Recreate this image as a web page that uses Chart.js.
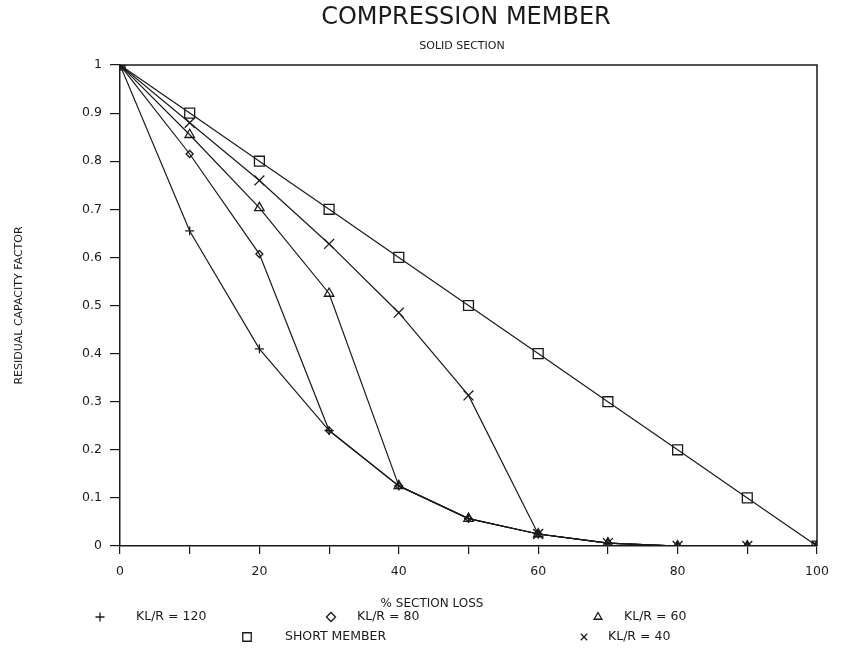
<!DOCTYPE html>
<html>
<head>
<meta charset="utf-8">
<script src="https://cdn.jsdelivr.net/npm/chart.js@4/dist/chart.umd.min.js"></script>
<style>
  html, body { margin: 0; padding: 0; background: #fff; }
  #wrap { width: 843px; height: 661px; position: relative; }
</style>
</head>
<body>
<div id="wrap"><canvas id="chart"></canvas></div>
<script>
// % section loss along the x axis
const sectionLoss = [0, 10, 20, 30, 40, 50, 60, 70, 80, 90, 100];

// residual capacity factor
const klr120 = [1, 0.655, 0.41, 0.24, 0.125, 0.057, 0.025, 0.006, 0, 0, 0];
const klr80 = [1, 0.815, 0.607, 0.24, 0.125, 0.057, 0.025, 0.006, 0, 0, 0];
const klr60 = [1, 0.855, 0.703, 0.525, 0.125, 0.057, 0.025, 0.006, 0, 0, 0];
const shortMember = [1, 0.9, 0.8, 0.7, 0.6, 0.5, 0.4, 0.3, 0.2, 0.1, 0];
const klr40 = [1, 0.88, 0.76, 0.628, 0.485, 0.313, 0.025, 0.006, 0, 0, 0];

const seriesLabels = ["KL/R = 120", "KL/R = 80", "KL/R = 60", "SHORT MEMBER", "KL/R = 40"];

const INK = "#1a1a1a";
const FONT = "'DejaVu Sans', 'Liberation Sans', sans-serif";

function toPoints(values) {
  return values.map((v, i) => ({ x: sectionLoss[i], y: v }));
}

function makeDataset(label, values, style, radius) {
  return {
    label: label,
    data: toPoints(values),
    borderColor: INK,
    borderWidth: 1.2,
    tension: 0,
    pointStyle: style,
    pointRadius: radius,
    pointBorderColor: INK,
    pointBorderWidth: 1.3,
    pointBackgroundColor: "rgba(0,0,0,0)",
  };
}

const datasets = [
  makeDataset(seriesLabels[0], klr120, "cross", 4.5),
  makeDataset(seriesLabels[1], klr80, "rectRot", 3.5),
  makeDataset(seriesLabels[2], klr60, "triangle", 5.5),
  makeDataset(seriesLabels[3], shortMember, "rect", 7),
  makeDataset(seriesLabels[4], klr40, "crossRot", 7),
];

// legend placement: [marker x, text x, row y]
const legendSpots = [
  [100, 136, 617],
  [331, 357, 617],
  [598, 624, 617],
  [247, 285, 637],
  [584, 608, 637],
];

const decorPlugin = {
  id: "decor",
  afterDraw(chart) {
    const ctx = chart.ctx;
    const area = chart.chartArea;
    ctx.save();
    // frame on top and right
    ctx.strokeStyle = INK;
    ctx.lineWidth = 1.5;
    ctx.beginPath();
    ctx.moveTo(area.left, area.top);
    ctx.lineTo(area.right, area.top);
    ctx.lineTo(area.right, area.bottom);
    ctx.stroke();

    ctx.fillStyle = INK;
    ctx.textAlign = "center";
    ctx.textBaseline = "middle";
    ctx.font = "24px " + FONT;
    ctx.fillText("COMPRESSION MEMBER", 466, 18);
    ctx.font = "11px " + FONT;
    ctx.fillText("SOLID SECTION", 462, 46);
    ctx.font = "12px " + FONT;
    ctx.fillText("% SECTION LOSS", 432, 604);

    // legend
    ctx.textAlign = "left";
    ctx.font = "12.5px " + FONT;
    chart.data.datasets.forEach((ds, i) => {
      const [mx, tx, ty] = legendSpots[i];
      ctx.strokeStyle = INK;
      ctx.fillStyle = "rgba(0,0,0,0)";
      ctx.lineWidth = 1.3;
      Chart.helpers.drawPoint(ctx, {
        pointStyle: ds.pointStyle,
        radius: ds.pointStyle === "rect" ? 6 : 4.5,
        rotation: 0,
        borderWidth: 1.3,
      }, mx, ty);
      ctx.fillStyle = INK;
      ctx.fillText(ds.label, tx, ty);
    });
    ctx.restore();
  },
};

new Chart(document.getElementById("chart"), {
  type: "line",
  data: { datasets: datasets },
  options: {
    responsive: true,
    maintainAspectRatio: false,
    animation: false,
    layout: { padding: { top: 65, right: 26, bottom: 0, left: 0 } },
    plugins: {
      legend: { display: false },
      title: { display: false },
      tooltip: { enabled: false },
    },
    scales: {
      x: {
        type: "linear",
        min: 0,
        max: 100,
        afterFit(scale) { scale.height = 115; },
        border: { color: INK, width: 1.5 },
        grid: { drawOnChartArea: false, tickLength: 8, color: INK, lineWidth: 1.2 },
        ticks: {
          stepSize: 10,
          autoSkip: false,
          maxRotation: 0,
          padding: 10,
          color: INK,
          font: { family: FONT, size: 12.5 },
          callback: (v) => (v % 20 === 0 ? String(v) : ""),
        },
      },
      y: {
        type: "linear",
        min: 0,
        max: 1,
        afterFit(scale) { scale.width = 120; },
        border: { color: INK, width: 1.5 },
        grid: { drawOnChartArea: false, tickLength: 10, color: INK, lineWidth: 1.2 },
        ticks: {
          stepSize: 0.1,
          padding: 8,
          color: INK,
          font: { family: FONT, size: 12.5 },
          callback: (v) => String(Math.round(v * 10) / 10),
        },
        title: {
          display: true,
          text: "RESIDUAL CAPACITY FACTOR",
          color: INK,
          font: { family: FONT, size: 11 },
          padding: { top: 13, bottom: 0 },
        },
      },
    },
  },
  plugins: [decorPlugin],
});
</script>
</body>
</html>
